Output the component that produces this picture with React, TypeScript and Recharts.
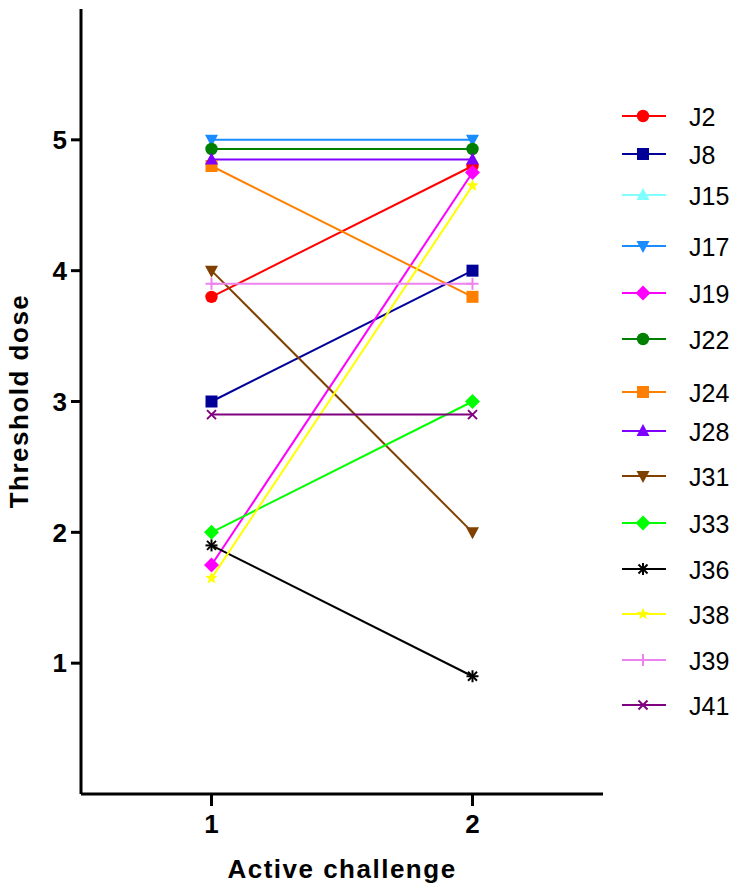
import React from 'react';
import { LineChart, Line, XAxis, YAxis } from 'recharts';

const challenges = [1, 2];
const seriesNames = ['J2', 'J8', 'J15', 'J17', 'J19', 'J22', 'J24', 'J28', 'J31', 'J33', 'J36', 'J38', 'J39', 'J41'];
const J2 = [3.8, 4.8];
const J8 = [3.0, 4.0];
const J15: (number | null)[] = [null, null];
const J17 = [5.0, 5.0];
const J19 = [1.75, 4.75];
const J22 = [4.93, 4.93];
const J24 = [4.8, 3.8];
const J28 = [4.85, 4.85];
const J31 = [4.0, 2.0];
const J33 = [2.0, 3.0];
const J36 = [1.9, 0.9];
const J38 = [1.65, 4.65];
const J39 = [3.9, 3.9];
const J41 = [2.9, 2.9];
const seriesValues = [J2, J8, J15, J17, J19, J22, J24, J28, J31, J33, J36, J38, J39, J41];
const yTicks = [1, 2, 3, 4, 5];
const xTicks = [1, 2];

const colors = ['#ff0000', '#000099', '#80ffff', '#1a8cff', '#ff00ff', '#008000', '#ff8000', '#8000ff', '#804000', '#00ff00', '#000000', '#ffff00', '#ee82ee', '#800080'];
const shapes = ['circle', 'square', 'triUp', 'triDown', 'diamond', 'circle', 'square', 'triUp', 'triDown', 'diamond', 'asterisk', 'star', 'plus', 'cross'];
const legendY = [116, 154, 195, 246, 293, 339, 392, 431, 476, 523, 569, 614, 660, 705];

const FONT = '"Liberation Sans", Arial, sans-serif';

const rows = challenges.map((c, i) => {
  const r: any = { x: c };
  seriesNames.forEach((n, k) => { r[n] = seriesValues[k][i]; });
  return r;
});

function Marker({ shape, cx, cy, color }: { shape: string; cx: number; cy: number; color: string }) {
  switch (shape) {
    case 'circle':
      return <circle cx={cx} cy={cy} r={6.2} fill={color} />;
    case 'square':
      return <rect x={cx - 6} y={cy - 6} width={12} height={12} fill={color} />;
    case 'triUp':
      return <polygon points={`${cx},${cy - 7} ${cx + 6.5},${cy + 5} ${cx - 6.5},${cy + 5}`} fill={color} />;
    case 'triDown':
      return <polygon points={`${cx},${cy + 7} ${cx + 6.5},${cy - 5} ${cx - 6.5},${cy - 5}`} fill={color} />;
    case 'diamond':
      return <polygon points={`${cx},${cy - 7.5} ${cx + 7.5},${cy} ${cx},${cy + 7.5} ${cx - 7.5},${cy}`} fill={color} />;
    case 'asterisk':
      return (
        <g stroke={color} strokeWidth={2}>
          <line x1={cx} y1={cy - 6} x2={cx} y2={cy + 6} />
          <line x1={cx - 6} y1={cy} x2={cx + 6} y2={cy} />
          <line x1={cx - 4.5} y1={cy - 4.5} x2={cx + 4.5} y2={cy + 4.5} />
          <line x1={cx - 4.5} y1={cy + 4.5} x2={cx + 4.5} y2={cy - 4.5} />
        </g>
      );
    case 'star': {
      const pts: string[] = [];
      for (let i = 0; i < 10; i++) {
        const r = i % 2 === 0 ? 6.5 : 2.8;
        const a = -Math.PI / 2 + (i * Math.PI) / 5;
        pts.push(`${cx + r * Math.cos(a)},${cy + r * Math.sin(a)}`);
      }
      return <polygon points={pts.join(' ')} fill={color} />;
    }
    case 'plus':
      return (
        <g stroke={color} strokeWidth={2}>
          <line x1={cx} y1={cy - 6} x2={cx} y2={cy + 6} />
          <line x1={cx - 6} y1={cy} x2={cx + 6} y2={cy} />
        </g>
      );
    case 'cross':
      return (
        <g stroke={color} strokeWidth={2}>
          <line x1={cx - 4.5} y1={cy - 4.5} x2={cx + 4.5} y2={cy + 4.5} />
          <line x1={cx - 4.5} y1={cy + 4.5} x2={cx + 4.5} y2={cy - 4.5} />
        </g>
      );
    default:
      return null;
  }
}

export default function App() {
  return (
    <div style={{ position: 'absolute', left: 0, top: 0, width: 738, height: 892, background: '#fff' }}>
      <LineChart width={738} height={892} data={rows} margin={{ top: 9, right: 135, left: 0, bottom: 0 }}>
        <XAxis
          dataKey="x"
          type="number"
          domain={[0.5, 2.5]}
          ticks={xTicks}
          height={98}
          axisLine={{ stroke: '#000', strokeWidth: 3 }}
          tickLine={{ stroke: '#000', strokeWidth: 3 }}
          tickSize={12}
          tickMargin={9}
          tick={{ fill: '#000', fontSize: 26, fontWeight: 'bold', fontFamily: FONT }}
          label={{
            content: (p: any) => {
              const vb = p.viewBox || { x: 81, width: 522 };
              return (
                <text x={vb.x + vb.width / 2} y={878} textAnchor="middle" fontSize={26} fontWeight="bold" fontFamily={FONT} letterSpacing={1.5} fill="#000">
                  Active challenge
                </text>
              );
            },
          }}
        />
        <YAxis
          type="number"
          domain={[0, 6]}
          ticks={yTicks}
          width={81}
          axisLine={{ stroke: '#000', strokeWidth: 3 }}
          tickLine={{ stroke: '#000', strokeWidth: 3 }}
          tickSize={10}
          tickMargin={4}
          tick={{ fill: '#000', fontSize: 26, fontWeight: 'bold', fontFamily: FONT }}
          label={{
            content: () => (
              <text x={28} y={401} transform="rotate(-90, 28, 401)" textAnchor="middle" fontSize={26} fontWeight="bold" fontFamily={FONT} letterSpacing={1.5} fill="#000">
                Threshold dose
              </text>
            ),
          }}
        />
        {seriesNames.map((n, k) => (
          <Line
            key={n}
            dataKey={n}
            stroke={colors[k]}
            strokeWidth={2}
            isAnimationActive={false}
            activeDot={false}
            dot={(p: any) =>
              p.cx == null || p.cy == null || p.value == null ? (
                <g key={`${n}-${p.index}`} />
              ) : (
                <g key={`${n}-${p.index}`}>
                  <Marker shape={shapes[k]} cx={p.cx} cy={p.cy} color={colors[k]} />
                </g>
              )
            }
          />
        ))}
      </LineChart>
      <svg width={738} height={892} style={{ position: 'absolute', left: 0, top: 0, pointerEvents: 'none' }}>
        {seriesNames.map((n, k) => (
          <g key={n}>
            <line x1={622} x2={666} y1={legendY[k]} y2={legendY[k]} stroke={colors[k]} strokeWidth={2} />
            <Marker shape={shapes[k]} cx={643} cy={legendY[k]} color={colors[k]} />
            <text x={689} y={legendY[k] + 9.5} fontSize={25} fontFamily={FONT} fill="#000">
              {n}
            </text>
          </g>
        ))}
      </svg>
    </div>
  );
}
